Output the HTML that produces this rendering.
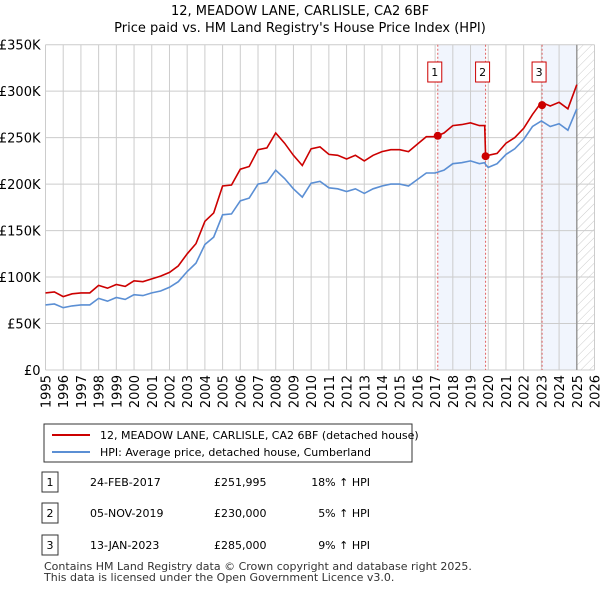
<!DOCTYPE html>
<html><head><meta charset="utf-8"><style>
body{margin:0;background:#fff;font-family:"Liberation Sans","DejaVu Sans",sans-serif;}
svg text{font-family:"DejaVu Sans","Liberation Sans",sans-serif;}
</style></head><body>
<svg id="chart" width="600" height="590" viewBox="0 0 600 590" xmlns="http://www.w3.org/2000/svg">
<defs><pattern id="hatch" width="6" height="6" patternUnits="userSpaceOnUse" patternTransform="rotate(45)"><line x1="0" y1="0" x2="0" y2="6" stroke="#ccc" stroke-width="1"/></pattern></defs>
<text x="300" y="15" text-anchor="middle" font-size="13">12, MEADOW LANE, CARLISLE, CA2 6BF</text>
<text x="300" y="32" text-anchor="middle" font-size="13">Price paid vs. HM Land Registry's House Price Index (HPI)</text>
<g id="plot"></g>
<rect x="44" y="424" width="368" height="38" fill="#fff" stroke="#333"/>
<line x1="52" y1="435" x2="90" y2="435" stroke="#cc0000" stroke-width="2"/>
<text x="100" y="439" font-size="11">12, MEADOW LANE, CARLISLE, CA2 6BF (detached house)</text>
<line x1="52" y1="452" x2="90" y2="452" stroke="#5b8fd4" stroke-width="2"/>
<text x="100" y="456" font-size="11">HPI: Average price, detached house, Cumberland</text>
<g id="table" font-size="11"></g>
<text x="44" y="570" font-size="11" fill="#333">Contains HM Land Registry data © Crown copyright and database right 2025.</text>
<text x="44" y="581" font-size="11" fill="#333">This data is licensed under the Open Government Licence v3.0.</text>
</svg>
<script>
const dates=[1995,1995.5,1996,1996.5,1997,1997.5,1998,1998.5,1999,1999.5,2000,2000.5,2001,2001.5,2002,2002.5,2003,2003.5,2004,2004.5,2005,2005.5,2006,2006.5,2007,2007.5,2008,2008.5,2009,2009.5,2010,2010.5,2011,2011.5,2012,2012.5,2013,2013.5,2014,2014.5,2015,2015.5,2016,2016.5,2017,2017.5,2018,2018.5,2019,2019.5,2019.8,2019.85,2020,2020.5,2021,2021.5,2022,2022.5,2023,2023.5,2024,2024.5,2025];
const hpi=[70,71,67,69,70,70,77,74,78,76,81,80,83,85,89,95,106,115,135,143,167,168,182,185,200,202,215,206,195,186,201,203,196,195,192,195,190,195,198,200,200,198,205,212,212,215,222,223,225,222,223,221,218,222,232,238,248,262,268,262,265,258,281];
const price=[83,84,79,82,83,83,91,88,92,90,96,95,98,101,105,112,125,136,160,169,198,199,216,219,237,239,255,244,231,220,238,240,232,231,227,231,225,231,235,237,237,235,243,251,251,255,263,264,266,263,263,230,231,233,244,250,260,275,288,284,288,281,307];
const saleDates=[2017.15,2019.85,2023.04];
const salePrices=[251.995,230,285];
const saleLabels=["1","2","3"];
const saleDateText=["24-FEB-2017","05-NOV-2019","13-JAN-2023"];
const salePriceText=["£251,995","£230,000","£285,000"];
const saleHpiText=["18% ↑ HPI","5% ↑ HPI","9% ↑ HPI"];
const yTicks=[0,50,100,150,200,250,300,350];
const yTickLabels=["£0","£50K","£100K","£150K","£200K","£250K","£300K","£350K"];
const xYears=[1995,1996,1997,1998,1999,2000,2001,2002,2003,2004,2005,2006,2007,2008,2009,2010,2011,2012,2013,2014,2015,2016,2017,2018,2019,2020,2021,2022,2023,2024,2025,2026];
const dataEnd=2025;

const NS="http://www.w3.org/2000/svg";
const X0=45.5,X1=594.5,Y0=370,Y1=44.7;
const xs=v=>X0+(v-1995)/(2026-1995)*(X1-X0);
const ys=v=>Y0-v/350*(Y0-Y1);
const plot=document.getElementById('plot');
function mk(tag,attrs,parent){const e=document.createElementNS(NS,tag);for(const k in attrs)e.setAttribute(k,attrs[k]);(parent||plot).appendChild(e);return e;}

let b=mk('rect',{x:xs(saleDates[0]),y:Y1,width:xs(saleDates[1])-xs(saleDates[0]),height:Y0-Y1,fill:'#eef2fc',opacity:0.8});


b=mk('rect',{x:xs(saleDates[2]),y:Y1,width:xs(dataEnd)-xs(saleDates[2]),height:Y0-Y1,fill:'#eef2fc',opacity:0.8});


let h=mk('rect',{x:xs(dataEnd),y:Y1,width:X1-xs(dataEnd),height:Y0-Y1,fill:'url(#hatch)'});


yTicks.forEach((t,i)=>{
  const g=mk('line',{x1:X0,x2:X1,y1:ys(t),y2:ys(t),stroke:'#cccccc','stroke-width':1});
  
  
  const l=mk('text',{x:X0-5,y:ys(t)+5,'text-anchor':'end','font-size':13});
  
  
  l.textContent=yTickLabels[i];
});
xYears.forEach(yr=>{
  const g=mk('line',{x1:xs(yr),x2:xs(yr),y1:Y1,y2:Y0,stroke:'#cccccc','stroke-width':1});
  
  
  const l=mk('text',{x:0,y:0,'text-anchor':'end','font-size':13,transform:`translate(${xs(yr)+5},${Y0+5}) rotate(-90)`});
  
  
  l.textContent=yr;
});
let ed=mk('line',{x1:xs(dataEnd),x2:xs(dataEnd),y1:Y1,y2:Y0,stroke:'#999','stroke-width':1.5});


saleDates.forEach((d,i)=>{
  const v=mk('line',{x1:xs(d),x2:xs(d),y1:Y1,y2:Y0,stroke:'#e06060','stroke-width':1,'stroke-dasharray':'2,2'});
  
  
  const r=mk('rect',{x:xs(d)-10,y:62,width:14,height:20,fill:'#fff',stroke:'#cc0000'});
  
  
  const t=mk('text',{x:xs(d)-3,y:76,'text-anchor':'middle','font-size':11});
  
  
  t.textContent=saleLabels[i];
});
const path=arr=>arr.map((v,i)=>(i?'L':'M')+xs(dates[i]).toFixed(1)+','+ys(v).toFixed(1)).join('');
let pb=mk('path',{d:path(hpi),fill:'none',stroke:'#5b8fd4','stroke-width':1.6});


let pr=mk('path',{d:path(price),fill:'none',stroke:'#cc0000','stroke-width':1.6});


saleDates.forEach((d,i)=>{
  const c=mk('circle',{cx:xs(d),cy:ys(salePrices[i]),r:4,fill:'#cc0000'});
  
  
});
const tb=document.getElementById('table');
const rowY=[482,513,545];
saleLabels.forEach((s,i)=>{
  const y=rowY[i];
  const r=mk('rect',{x:42,y:y-10,width:16,height:20,fill:'#fff',stroke:'#333'},tb);
  
  
  const cells=[[50,s,'middle'],[90,saleDateText[i],'start'],[214,salePriceText[i],'start'],[370,saleHpiText[i],'end']];
  cells.forEach((c,j)=>{
    const t=mk('text',{x:c[0],y:y+4,'text-anchor':c[2]},tb);
    
    
    t.textContent=c[1];
  });
});
</script>
</body></html>
